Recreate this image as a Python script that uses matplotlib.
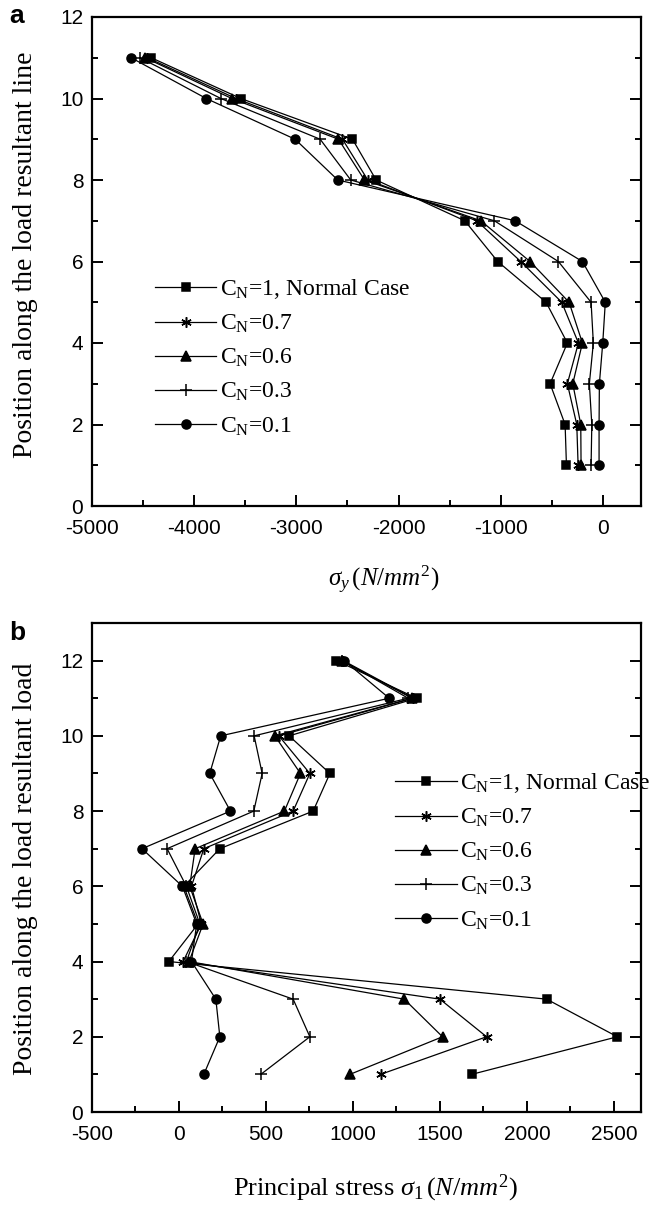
import numpy as np
import matplotlib
matplotlib.use('Agg')
import matplotlib.pyplot as plt
from matplotlib.ticker import MultipleLocator

plt.rcParams['font.family'] = 'Liberation Sans'
plt.rcParams['axes.unicode_minus'] = False
plt.rcParams['mathtext.fontset'] = 'custom'
plt.rcParams['mathtext.rm'] = 'Liberation Serif'
plt.rcParams['mathtext.it'] = 'Liberation Serif:italic'

# panel a: sigma_y along the load resultant line
pos_a = [1, 2, 3, 4, 5, 6, 7, 8, 9, 10, 11]
sy_cn1 = [-358, -371, -518, -349, -557, -1030, -1352, -2219, -2450, -3542, -4418]
sy_cn07 = [-244, -257, -349, -241, -404, -805, -1235, -2300, -2548, -3590, -4455]
sy_cn06 = [-215, -218, -296, -202, -332, -714, -1196, -2333, -2587, -3630, -4477]
sy_cn03 = [-117, -110, -134, -95, -117, -437, -1063, -2467, -2766, -3737, -4530]
sy_cn01 = [-39, -39, -36, -3, 22, -202, -860, -2594, -3011, -3880, -4614]

# panel b: principal stress sigma_1
pos_b = [1, 2, 3, 4, 5, 6, 7, 8, 9, 10, 11, 12]
s1_cn1 = [1682, 2519, 2113, -57, 111, 29, 236, 772, 868, 634, 1366, 906]
s1_cn07 = [1159, 1768, 1500, 25, 130, 73, 144, 657, 753, 575, 1345, 945]
s1_cn06 = [983, 1515, 1295, 59, 140, 63, 94, 607, 699, 552, 1340, 935]
s1_cn03 = [471, 753, 657, 44, 121, 44, -67, 431, 479, 433, 1318, 940]
s1_cn01 = [144, 236, 213, 73, 103, 21, -211, 297, 178, 241, 1209, 950]

labels = [r'C$_{\rm N}$=1, Normal Case', r'C$_{\rm N}$=0.7', r'C$_{\rm N}$=0.6',
          r'C$_{\rm N}$=0.3', r'C$_{\rm N}$=0.1']
markers = ['s', (6, 2, 0), '^', '+', 'o']
msizes = [6, 7.5, 6.5, 8, 6.5]

serif = 'Liberation Serif'
W, H = 657, 1208
fig = plt.figure(figsize=(W / 100, H / 100), dpi=100)

def px_axes(left, top, right, bottom):
    return fig.add_axes([left / W, 1 - bottom / H, (right - left) / W, (bottom - top) / H])

ax_a = px_axes(91.7, 17, 641, 506)
ax_b = px_axes(91.7, 623, 641, 1112)


def draw(ax, pos, series):
    for vals, mk, ms, lab in zip(series, markers, msizes, labels):
        ax.plot(vals, pos, color='black', lw=0.9, marker=mk, ms=ms, mew=1.1,
                mfc='black', mec='black', label=lab)


def style(ax):
    for sp in ax.spines.values():
        sp.set_linewidth(1.6)
    ax.tick_params(which='both', direction='in', width=1.4, labelsize=15,
                   left=True, right=True, top=False, bottom=True, pad=6)
    ax.tick_params(axis='x', which='both', pad=9)
    ax.tick_params(which='major', length=8)
    ax.tick_params(which='minor', length=4.5)
    ax.yaxis.set_major_locator(MultipleLocator(2))
    ax.yaxis.set_minor_locator(MultipleLocator(1))


draw(ax_a, pos_a, [sy_cn1, sy_cn07, sy_cn06, sy_cn03, sy_cn01])
style(ax_a)
ax_a.set_xlim(-5000, 371)
ax_a.set_ylim(0, 12)
ax_a.xaxis.set_major_locator(MultipleLocator(1000))
ax_a.xaxis.set_minor_locator(MultipleLocator(500))
ax_a.set_ylabel('Position along the load resultant line', family=serif, fontsize=20)
ax_a.yaxis.set_label_coords(-0.098, 0.513)
ax_a.set_xlabel(r'$\sigma_y\,(N/mm^2)$', fontsize=18)
ax_a.xaxis.set_label_coords(0.531, -0.118)
ax_a.legend(loc='upper left', bbox_to_anchor=(0.115, 0.468), frameon=False,
            prop={'family': serif, 'size': 17}, handlelength=2.6,
            handletextpad=0.15, labelspacing=0.5, borderaxespad=0, borderpad=0)

draw(ax_b, pos_b, [s1_cn1, s1_cn07, s1_cn06, s1_cn03, s1_cn01])
style(ax_b)
ax_b.set_xlim(-500, 2655)
ax_b.set_ylim(0, 13)
ax_b.xaxis.set_major_locator(MultipleLocator(500))
ax_b.xaxis.set_minor_locator(MultipleLocator(250))
ax_b.set_ylabel('Position along the load resultant load', family=serif, fontsize=20)
ax_b.yaxis.set_label_coords(-0.098, 0.498)
ax_b.set_xlabel(r'Principal stress $\sigma_{\mathit{1}}\,(N/mm^2)$', family=serif, fontsize=19)
ax_b.xaxis.set_label_coords(0.517, -0.125)
ax_b.legend(loc='upper left', bbox_to_anchor=(0.553, 0.697), frameon=False,
            prop={'family': serif, 'size': 17}, handlelength=2.6,
            handletextpad=0.15, labelspacing=0.5, borderaxespad=0, borderpad=0)

fig.text(17 / W, 1 - 16 / H, 'a', fontsize=19, fontweight='bold', ha='center', va='center')
fig.text(17 / W, 1 - 633 / H, 'b', fontsize=19, fontweight='bold', ha='center', va='center')

fig.savefig('out.png', dpi=100)
